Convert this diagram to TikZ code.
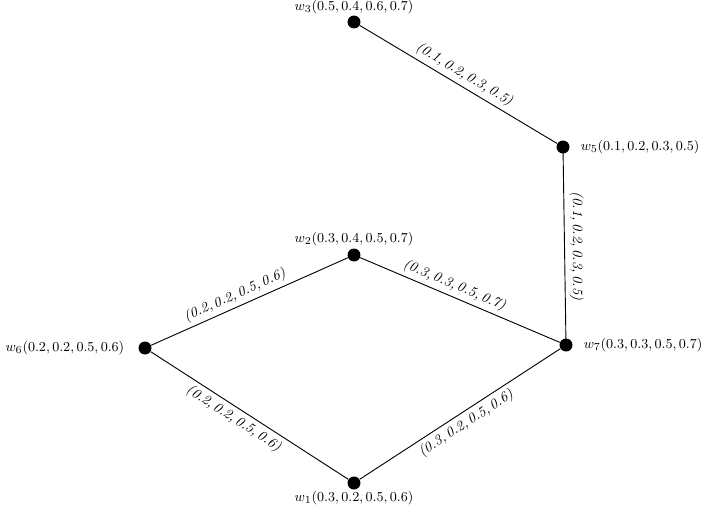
\documentclass[tikz,border=0pt]{standalone}
\begin{document}
\begin{tikzpicture}[x=0.0231cm,y=-0.0231cm,
  font=\fontsize{9.3}{11}\selectfont,
  vtx/.style={circle,fill=black,inner sep=0pt,minimum size=3mm},
  edge/.style={line width=0.6pt},
  elab/.style={sloped,inner sep=2.5pt}]
\newcommand{\tup}[4]{\textit{(#1,\,#2,\,#3,\,#4)}}
\useasboundingbox (0,0) rectangle (710,505);
\node[vtx,label={[inner sep=0.5pt]above:$w_3(0.5,0.4,0.6,0.7)$}] (w3) at (354,22) {};
\node[vtx,label={[inner sep=7pt]right:$w_5(0.1,0.2,0.3,0.5)$}] (w5) at (563,147) {};
\node[vtx,label={[inner sep=1.5pt]above:$w_2(0.3,0.4,0.5,0.7)$}] (w2) at (354,255) {};
\node[vtx,label={[inner sep=9pt]left:$w_6(0.2,0.2,0.5,0.6)$}] (w6) at (145,348) {};
\node[vtx,label={[inner sep=7pt]right:$w_7(0.3,0.3,0.5,0.7)$}] (w7) at (566,345) {};
\node[vtx,label={[inner sep=0.5pt]below:$w_1(0.3,0.2,0.5,0.6)$}] (w1) at (354,483) {};
\draw[edge] (w3) -- node[elab,above,pos=0.5] {\tup{0.1}{0.2}{0.3}{0.5}} (w5);
\draw[edge] (w5.center) -- node[midway,rotate=-90,above,inner sep=3pt] (l57) {\tup{0.1}{0.2}{0.3}{0.5}} (w7.center);
\draw[edge] (w6) -- node[elab,above,pos=0.45] {\tup{0.2}{0.2}{0.5}{0.6}} (w2);
\draw[edge] (w2) -- node[elab,above,pos=0.45] {\tup{0.3}{0.3}{0.5}{0.7}} (w7);
\draw[edge] (w6) -- node[elab,below,pos=0.45] {\tup{0.2}{0.2}{0.5}{0.6}} (w1);
\draw[edge] (w1) -- node[elab,below,pos=0.5] {\tup{0.3}{0.2}{0.5}{0.6}} (w7);
\end{tikzpicture}
\end{document}
